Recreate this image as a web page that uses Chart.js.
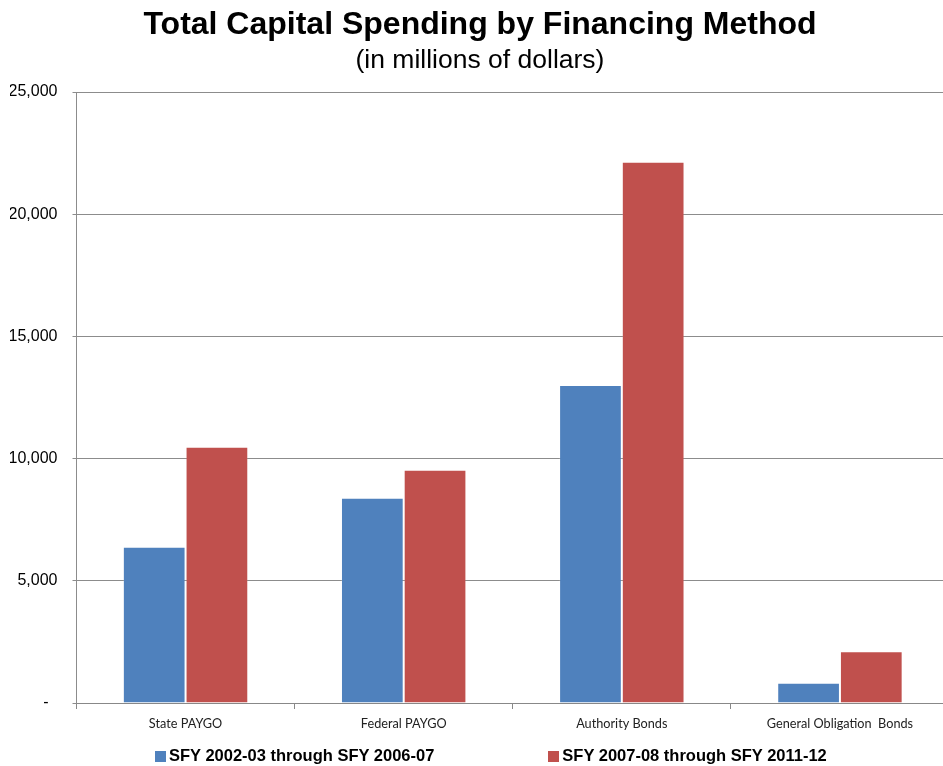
<!DOCTYPE html>
<html>
<head>
<meta charset="utf-8">
<script src="https://cdn.jsdelivr.net/npm/chart.js@4/dist/chart.umd.min.js"></script>
<style>
  html, body { margin: 0; padding: 0; background: #fff; }
  #wrap { position: relative; width: 943px; height: 766px; overflow: hidden; font-family: Arial, "Liberation Sans", sans-serif; }
  #chart { position: absolute; left: 0; top: 0; }
  .title { position: absolute; left: 0; width: 960px; text-align: center; color: #000; white-space: nowrap; }
  #title { top: 5px; font-size: 32px; font-weight: bold; }
  #subtitle { top: 44px; font-size: 26.5px; }
  #legend { position: absolute; top: 746px; left: 155px; display: flex; font-size: 16.5px; font-weight: bold; color: #000; white-space: nowrap; }
  .item { display: flex; align-items: center; }
  .item + .item { margin-left: 114px; }
  .swatch { width: 11px; height: 11px; margin-right: 3px; margin-top: 1px; }
</style>
</head>
<body>
<div id="wrap">
  <!-- plot runs a few pixels past the right edge, the frame clips it -->
  <canvas id="chart" width="955" height="766"></canvas>
  <div class="title" id="title">Total Capital Spending by Financing Method</div>
  <div class="title" id="subtitle">(in millions of dollars)</div>
  <div id="legend"></div>
</div>
<script>
const categories = ['State PAYGO', 'Federal PAYGO', 'Authority Bonds', 'General Obligation  Bonds'];
const seriesNames = ['SFY 2002-03 through SFY 2006-07', 'SFY 2007-08 through SFY 2011-12'];
const earlierPeriod = [6390, 8400, 13010, 830];
const laterPeriod = [10480, 9540, 22150, 2120];
const yTicks = [0, 5000, 10000, 15000, 20000, 25000];

const colors = ['#4f81bd', '#c0504d'];
const number = new Intl.NumberFormat('en-US');

function $(id) {
  return document.getElementById(id);
}

const datasets = [earlierPeriod, laterPeriod].map((data, i) => ({
  label: seriesNames[i],
  data,
  backgroundColor: colors[i],
  borderColor: 'rgba(255,255,255,0.15)',
  borderWidth: 1,
  categoryPercentage: 0.575,
  barPercentage: 1,
}));

$('legend').innerHTML = datasets.map((ds) => `
  <div class="item"><span class="swatch" style="background:${ds.backgroundColor}"></span>${ds.label}</div>
`).join('');

new Chart($('chart'), {
  type: 'bar',
  data: { labels: categories, datasets },
  options: {
    responsive: false,
    animation: false,
    layout: { padding: { top: 92, left: 10, right: 6, bottom: 23 } },
    plugins: { legend: { display: false }, tooltip: { enabled: false } },
    scales: {
      x: {
        grid: { drawOnChartArea: false, drawTicks: true, tickLength: 6, color: '#888', offset: true },
        border: { color: '#888' },
        ticks: { color: '#222', font: { family: 'Lato, "Open Sans", sans-serif', size: 12.7 }, padding: 7 },
        afterFit: (scale) => { scale.height = 40; },
      },
      y: {
        min: 0,
        max: yTicks[yTicks.length - 1],
        afterBuildTicks: (scale) => { scale.ticks = yTicks.map((value) => ({ value })); },
        grid: { color: '#8c8c8c', tickLength: 4 },
        border: { color: '#8c8c8c' },
        ticks: {
          color: '#000',
          padding: 15,
          font: { family: 'Arial, "Liberation Sans", sans-serif', size: 16 },
          callback: (value) => (value === 0 ? '-  ' : number.format(value)),
        },
        afterFit: (scale) => { scale.width = 66.5; },
      },
    },
  },
});
</script>
</body>
</html>
